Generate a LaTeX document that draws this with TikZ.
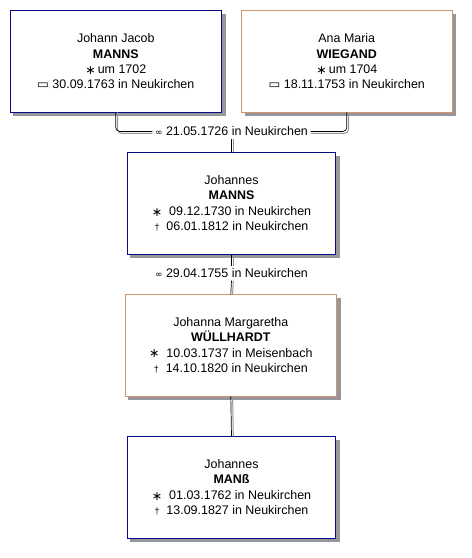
\documentclass[tikz,border=0pt]{standalone}
\usepackage{fontspec}
\setmainfont{Liberation Sans}
\newfontfamily\symfont{DejaVu Sans}
\usepackage{tikz}
\definecolor{boxblue}{RGB}{10,10,130}
\definecolor{boxorange}{RGB}{210,150,110}
\definecolor{shadegray}{RGB}{150,150,156}
\newcommand{\born}{{\symfont\raisebox{-0.1ex}{∗}}}
\newcommand{\died}{{\small†}}
\newcommand{\buried}{{\symfont▭}}
\newcommand{\married}{{\symfont\small∞}}
\begin{document}
\begin{tikzpicture}[x=1bp,y=-1bp,
    person/.style={draw,line width=0.8bp,fill=white,text=black,align=center,
      minimum height=101.5bp,inner sep=2bp,
      font=\fontsize{12.5}{15.5}\selectfont},
    malebox/.style={person,draw=boxblue},
    femalebox/.style={person,draw=boxorange},
    shadebox/.style={draw=shadegray,fill=shadegray,line width=0.8bp,
      minimum height=101.5bp,inner sep=0pt},
    wedding/.style={font=\fontsize{12.5}{15.5}\selectfont,inner sep=2.5bp},
    link/.style={black,line width=0.7bp,rounded corners=4bp},
    linkshade/.style={link,draw=shadegray,line width=1bp}]
  \useasboundingbox (0,0) rectangle (472,558);
  % box shades, set before the boxes
  \node[shadebox,minimum width=211.5bp] (jacobshade) at (119.3,64.8) {};
  \node[shadebox,minimum width=210.5bp] (anashade) at (350.3,64.8) {};
  \node[shadebox,minimum width=208.5bp] (johannesshade) at (235,207) {};
  \node[shadebox,minimum width=211.5bp] (johannashade) at (234.3,348.7) {};
  \node[shadebox,minimum width=208.5bp] (mansshade) at (235,491) {};
  % parents
  \node[malebox,minimum width=211.5bp] (jacob) at (115.8,61.3)
    {Johann Jacob\\\textbf{MANNS}\\\born\,um 1702\\\buried\ 30.09.1763 in Neukirchen};
  \node[femalebox,minimum width=210.5bp] (ana) at (346.8,61.3)
    {Ana Maria\\\textbf{WIEGAND}\\\born\,um 1704\\\buried\ 18.11.1753 in Neukirchen};
  \node[wedding] (m1) at (231.5,131.5) {\married\ 21.05.1726 in Neukirchen};
  % son and his wife
  \node[malebox,minimum width=208.5bp] (johannes) at (231.5,203.5)
    {Johannes\\\textbf{MANNS}\\\born\ \ 09.12.1730 in Neukirchen\\\died\ \ 06.01.1812 in Neukirchen};
  \node[wedding] (m2) at (231.5,273.3) {\married\ 29.04.1755 in Neukirchen};
  \node[femalebox,minimum width=211.5bp] (johanna) at (230.8,345.2)
    {Johanna Margaretha\\\textbf{WÜLLHARDT}\\\born\ \ 10.03.1737 in Meisenbach\\\died\ \ 14.10.1820 in Neukirchen};
  % grandson
  \node[malebox,minimum width=208.5bp] (mans) at (231.5,487.5)
    {Johannes\\\textbf{MANß}\\\born\ \ 01.03.1762 in Neukirchen\\\died\ \ 13.09.1827 in Neukirchen};
  % connectors with their shades
  \draw[linkshade] ([xshift=1.8bp]jacob.south) |- ([yshift=-1.8bp]m1.west);
  \draw[linkshade] ([yshift=-1.8bp]m1.east) -| ([xshift=1.8bp]ana.south);
  \draw[linkshade] ([xshift=1.8bp]m1.south) -- ([xshift=1.8bp]johannes.north);
  \draw[linkshade] ([xshift=1.8bp]johannes.south) -- ([xshift=1.8bp]m2.north);
  \draw[linkshade] ([xshift=1.8bp]m2.south) -- ([xshift=1.8bp]johanna.north);
  \draw[linkshade] ([xshift=1.8bp]johanna.south) -- ([xshift=1.8bp]mans.north);
  \draw[link] (jacob.south) |- (m1.west);
  \draw[link] (m1.east) -| (ana.south);
  \draw[link] (m1.south) -- (johannes.north);
  \draw[link] (johannes.south) -- (m2.north);
  \draw[link] (m2.south) -- (johanna.north);
  \draw[link] (johanna.south) -- (mans.north);
\end{tikzpicture}
\end{document}
